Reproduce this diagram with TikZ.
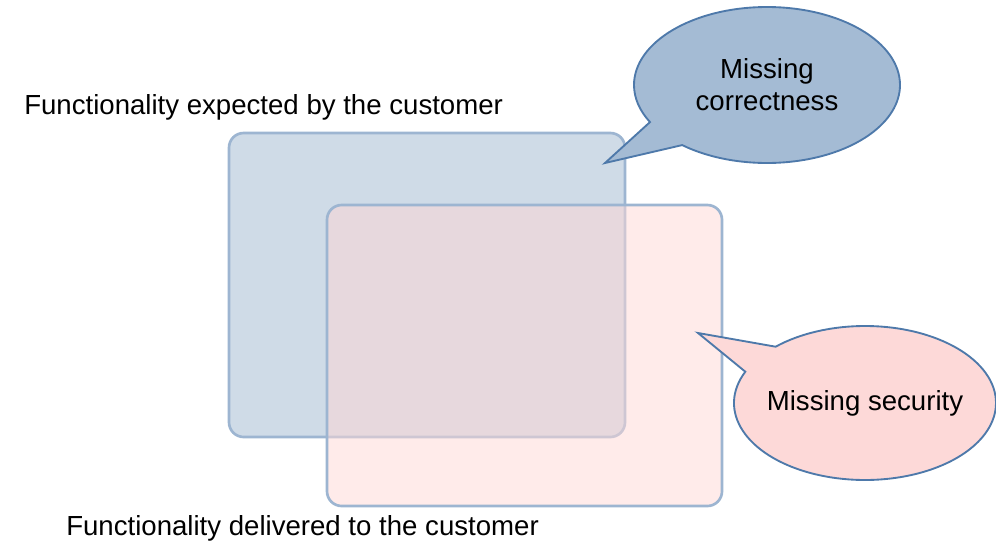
\documentclass[tikz,border=0pt]{standalone}
\usepackage{fontspec}
\setmainfont{Liberation Sans}
\usetikzlibrary{shapes.callouts}
\definecolor{boxline}{HTML}{9DB5D1}
\definecolor{expfill}{HTML}{CFDBE7}
\definecolor{delfill}{HTML}{FFD7D5}
\definecolor{bubline}{HTML}{4E79AA}
\definecolor{bubblue}{HTML}{A4BBD4}
\definecolor{bubpink}{HTML}{FDD9D8}
\begin{document}
\begin{tikzpicture}[x=0.75pt,y=-0.75pt,
  bigtext/.style={font=\fontsize{20.7}{24}\selectfont},
  area/.style={draw=boxline,line width=2pt,rounded corners=11pt},
  bubble/.style={ellipse callout,draw=bubline,line width=1.4pt,inner sep=0pt,
    bigtext,align=center},
  caption/.style={bigtext,anchor=base west,inner sep=0pt}]
\useasboundingbox (0,0) rectangle (996,540);
% functionality sets
\path[area,fill=expfill] (229,133) rectangle (625,437);
\path[area,fill=delfill,fill opacity=0.5] (327,205) rectangle (722,506);
% captions
\node[caption] (expected) at (24,114) {Functionality expected by the customer};
\node[caption] (delivered) at (66,535) {Functionality delivered to the customer};
% callouts (text boxes of zero width so that the ellipse keeps its set size)
\node[bubble,fill=bubblue,minimum width=266pt*0.75,minimum height=156pt*0.75,
  callout absolute pointer={(605,163)},callout pointer arc=22] (correct) at (767,85)
  {\makebox[0pt]{Missing}\\\makebox[0pt]{correctness}};
\node[bubble,fill=bubpink,minimum width=262pt*0.75,minimum height=154pt*0.75,
  callout absolute pointer={(698,333)},callout pointer arc=23] (secure) at (865,403)
  {\makebox[0pt]{Missing security}};
\end{tikzpicture}
\end{document}
